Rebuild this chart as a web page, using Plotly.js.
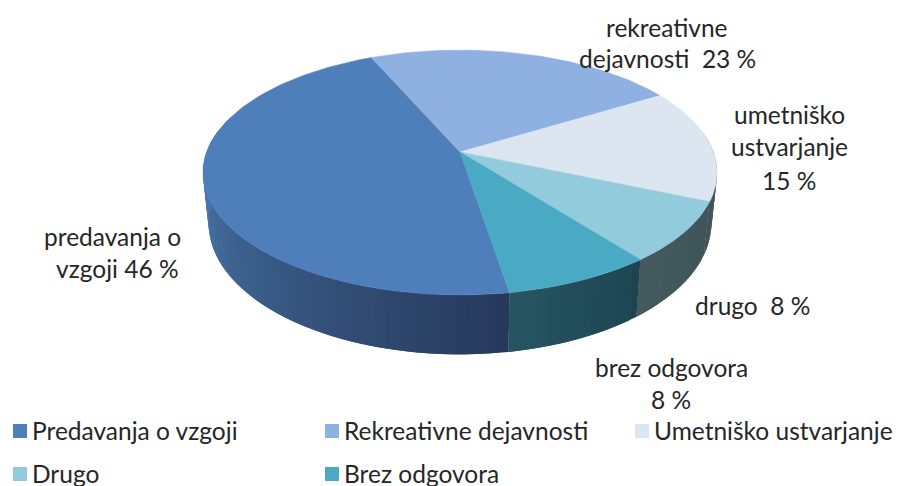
<!DOCTYPE html>
<html><head><meta charset="utf-8">
<script src="https://cdn.plot.ly/plotly-3.0.1.min.js"></script>
<style>html,body{margin:0;padding:0;background:#fff}#c{width:901px;height:486px}
#c .legendtext,#c .legend2text,#c .legend3text{transform:translateX(-8px)}</style></head>
<body><div id="c"></div>
<script>
// Data
const categories = ['Predavanja o vzgoji','Rekreativne dejavnosti','Umetniško ustvarjanje','Drugo','Brez odgovora'];
const values = [46,23,15,8,8];
// Data labels, one entry per line
const labelLines = ['rekreativne','dejavnosti  23 %','umetniško','ustvarjanje','15 %','drugo  8 %','brez odgovora','8 %','predavanja o','vzgoji 46 %'];
const labelX = [667,667,789,789,789,752,671,671,112,117];
const labelY = [27,58,114,146,180,305,367,399,236,268];

// Styles
const topColors = ['#4f7fba','#8eb1e1','#dce6f1','#92ccdc','#4aaac4'];
// wall colour stops per slice: [angle, colour]
const wallStops = [
  [[170,[38,56,90]],[270,[74,122,174]]],
  [[0,[0,0,0]],[1,[0,0,0]]],
  [[90,[110,112,118]],[100,[84,92,98]],[113,[62,82,88]]],
  [[113,[62,84,89]],[142,[68,90,94]]],
  [[142,[30,68,82]],[171,[38,86,98]]]
];
const legendOf = ['legend','legend','legend3','legend2','legend2'];
const startAngle = 170.6, A = 253.4, B = 119, K = 0.1675, CX = 460, CY = 152, DEPTH = 49.5, SHRINK = 0.978;

function proj(deg, low){
  const t = deg*Math.PI/180, X = Math.sin(t), Y = Math.cos(t), w = 1+K*Y;
  const sx = A*X/w, sy = -B*Y/w;
  if(!low) return [CX+sx, CY+sy];
  return [CX+sx*SHRINK, CY+sy+DEPTH/w];
}
function wallColor(i,deg){
  const s = wallStops[i];
  let a = s[0], b = s[s.length-1];
  for(let j=0;j<s.length-1;j++){ if(deg>=s[j][0] && deg<=s[j+1][0]){a=s[j];b=s[j+1];break;} }
  const f = Math.min(1,Math.max(0,(deg-a[0])/((b[0]-a[0])||1)));
  const c = a[1].map((v,k)=>Math.round(v+(b[1][k]-v)*f));
  return 'rgb('+c.join(',')+')';
}
const total = values.reduce((p,c)=>p+c,0);
const traces = [];
let ang = startAngle;
const spans = values.map(v=>{const s=[ang,ang+v/total*360];ang=s[1];return s;});

// walls (front half only); each strip overlaps the next one so no seams show
spans.forEach((s,i)=>{
  const off = s[0]>=360 ? 360 : 0;
  const a0 = Math.max(s[0]-off,80), a1 = Math.min(s[1]-off,280);
  if(a1<=a0) return;
  const n = Math.ceil((a1-a0)/2);
  for(let k=0;k<n;k++){
    const d0=a0+(a1-a0)*k/n, d1=a0+(a1-a0)*(k+1)/n, dx=Math.min(a1,d1+(a1-a0)/n);
    const p=[proj(d0),proj(dx),proj(dx,true),proj(d0,true),proj(d0)];
    const col = wallColor(i,(d0+d1)/2);
    traces.push({type:'scatter',mode:'lines',x:p.map(q=>q[0]),y:p.map(q=>q[1]),fill:'toself',fillcolor:col,
      line:{width:0},hoverinfo:'skip',showlegend:false});
  }
});
// top surface
spans.forEach((s,i)=>{
  const pts=[[CX,CY]];
  const n=Math.ceil((s[1]-s[0])/1.5);
  for(let k=0;k<=n;k++) pts.push(proj(s[0]+(s[1]-s[0])*k/n));
  pts.push([CX,CY]);
  traces.push({type:'scatter',mode:'lines',x:pts.map(q=>q[0]),y:pts.map(q=>q[1]),fill:'toself',fillcolor:topColors[i],
    line:{color:topColors[i],width:0.5},name:categories[i],text:values[i]+' %',hoverinfo:'name+text',showlegend:false});
});
// legend entries
categories.forEach((c,i)=>{
  traces.push({type:'scatter',mode:'markers',x:[null],y:[null],name:c,
    marker:{symbol:'square',size:14,color:topColors[i]},legend:legendOf[i],showlegend:true,hoverinfo:'skip'});
});

const legendFont = {family:'Lato, "Open Sans", sans-serif',size:24.5,color:'#262626'};
const mk = (x,y)=>({orientation:'h',x:x,y:y,xanchor:'left',yanchor:'middle',font:legendFont,
  entrywidth:267,entrywidthmode:'pixels',bgcolor:'rgba(0,0,0,0)',itemclick:false,itemdoubleclick:false,traceorder:'normal'});

const layout = {
  width:901,height:486,margin:{l:0,r:0,t:0,b:0,autoexpand:false},paper_bgcolor:'#fff',plot_bgcolor:'#fff',
  xaxis:{range:[0,901],visible:false,fixedrange:true},
  yaxis:{range:[486,0],visible:false,fixedrange:true},
  legend:mk(0,1-431/486),
  legend2:mk(0,1-474/486),
  legend3:mk(622/901,1-431/486),
  annotations:labelLines.map((t,i)=>({text:t,x:labelX[i],y:labelY[i],xref:'x',yref:'y',showarrow:false,
    xanchor:'center',yanchor:'middle',font:{family:'Lato, "Open Sans", sans-serif',size:24.5,color:'#262626'}}))
};
Plotly.newPlot('c',traces,layout,{displayModeBar:false});
</script></body></html>
